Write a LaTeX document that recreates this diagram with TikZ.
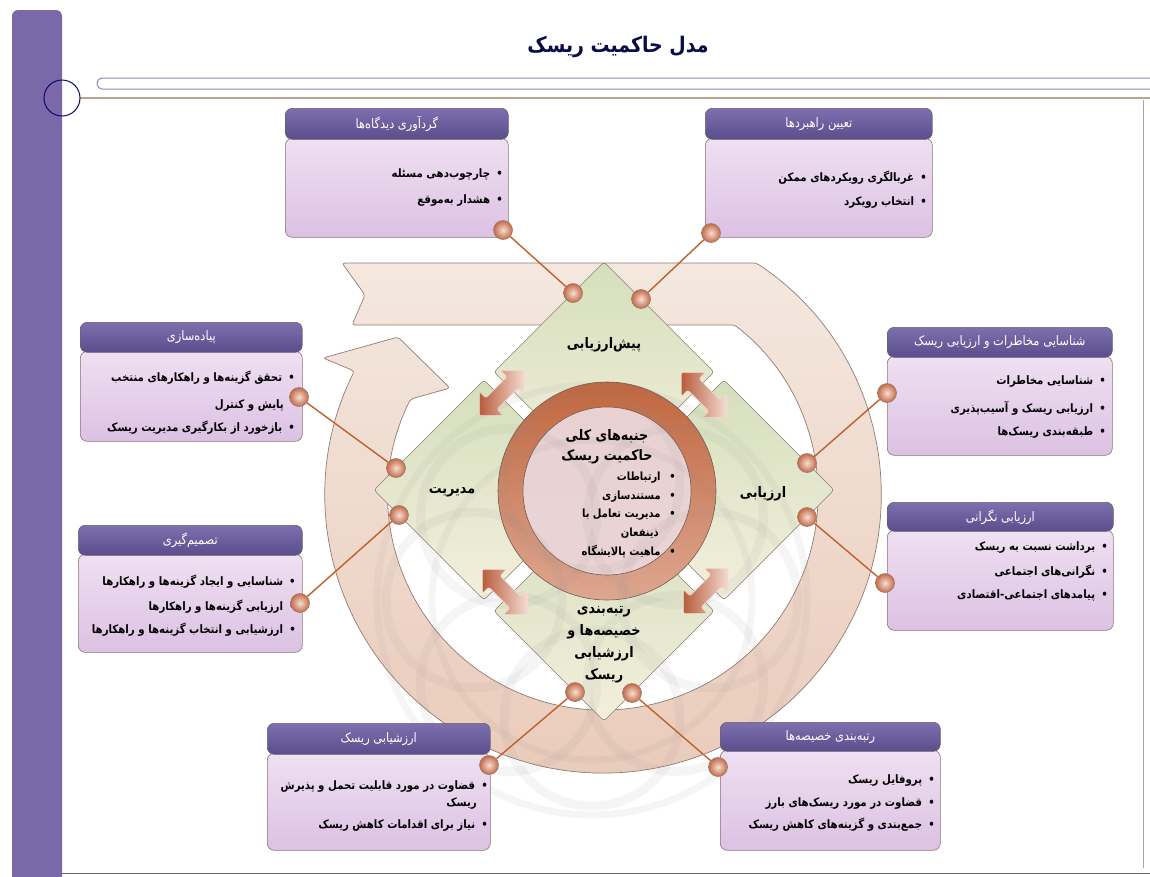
\documentclass[tikz,border=0pt]{standalone}
\usepackage{fontspec}
\usepackage{graphicx}
\usetikzlibrary{calc}
\newfontfamily\farsi[Script=Arabic]{DejaVu Sans}
\TeXXeTstate=1
\newcommand{\rtl}[1]{\scalebox{0.88}[1]{\farsi\beginR #1\endR}}
\definecolor{barpurple}{HTML}{7A68A8}
\definecolor{titlenavy}{HTML}{0B0B4A}
\definecolor{hdrtop}{HTML}{7E70AE}
\definecolor{hdrbot}{HTML}{594D8C}
\definecolor{hdrborder}{HTML}{6B5E70}
\definecolor{bodytop}{HTML}{EFE0F2}
\definecolor{bodybot}{HTML}{DCC1E3}
\definecolor{bodyborder}{HTML}{8A7474}
\definecolor{connc}{HTML}{C0602A}
\definecolor{dotin}{HTML}{F6DED3}
\definecolor{dotout}{HTML}{C46A48}
\definecolor{dotborder}{HTML}{9A7A6C}
\definecolor{ringtop}{HTML}{F3E6DD}
\definecolor{ringbot}{HTML}{E8C5B2}
\definecolor{ringborder}{HTML}{8A7268}
\definecolor{diamtop}{HTML}{D5DFBC}
\definecolor{diambot}{HTML}{F3EFDD}
\definecolor{diamborder}{HTML}{8C8070}
\definecolor{cringtop}{HTML}{C0663E}
\definecolor{cringbot}{HTML}{DDA791}
\definecolor{cdisc}{HTML}{EBD7DA}
\definecolor{arrdark}{HTML}{B85C3C}
\definecolor{arrlight}{HTML}{F4DCD2}
\definecolor{wmark}{HTML}{8C8C8C}
\newcommand{\dblarr}[3]{%
\begin{scope}[shift={(#1,#2)}, rotate=#3]
\shade[draw=white!80!arrdark, line width=0.5, left color=arrdark, right color=arrlight, rounded corners=2]
 (-32,0) -- (-15,-17) -- (-15,-8) -- (15,-8) -- (15,-17) -- (32,0) -- (15,17) -- (15,8) -- (-15,8) -- (-15,17) -- cycle;
\end{scope}}
\begin{document}
\begin{tikzpicture}[x=1pt,y=-1pt,
  hdr/.style={draw=hdrborder, line width=0.6, rounded corners=7, top color=hdrtop, bottom color=hdrbot, text=white, font=\farsi\fontsize{13}{15}\selectfont, inner sep=0, anchor=north west},
  bodyb/.style={draw=bodyborder, line width=0.6, rounded corners=7, top color=bodytop, bottom color=bodybot, inner sep=0, anchor=north west},
  bul/.style={anchor=east, inner sep=0, font=\farsi\bfseries\fontsize{11.6}{13}\selectfont},
  dot/.style={circle, minimum size=19, inner sep=0, draw=dotborder, line width=0.6, inner color=dotin, outer color=dotout},
  conn/.style={draw=connc, line width=1.4},
  diam/.style={draw=diamborder, line width=0.6, rounded corners=3, top color=diamtop, bottom color=diambot},
  dlabel/.style={font=\farsi\bfseries\fontsize{14.5}{22}\selectfont, align=center, inner sep=0},
  clabel/.style={anchor=east, inner sep=0, font=\farsi\bfseries\fontsize{11.3}{13}\selectfont},
  wm/.style={draw=wmark, line width=9, opacity=0.08}]
\useasboundingbox (0,0) rectangle (1150,876);
\fill[white] (0,0) rectangle (1150,876);
% frame
\fill[barpurple, rounded corners=6] (12,900) -- (12,10) -- (62,10) -- (62,900) -- cycle;
\draw[draw=barpurple!80, line width=1, fill=white, rounded corners=5] (97,78) rectangle (1170,89);
\draw[draw=gray!60!brown!70, line width=2] (80,98) -- (1150,98);
\draw[draw=titlenavy!80!blue, line width=1] (62,98) circle (18);
\draw[draw=gray!70, line width=0.6] (1143,100) -- (1143,868);
\draw[draw=gray!80!black, line width=1] (62,873) -- (1150,873);
\node[font=\farsi\bfseries\fontsize{21.5}{26}\selectfont, text=titlenavy] (title) at (618,47) {\rtl{مدل حاکمیت ریسک}};
% big circular arrow
\shade[draw=ringborder, line width=0.7, top color=ringtop, bottom color=ringbot, rounded corners=3, opacity=0.92]
 (342,263) -- (756.2,263) arc[start angle=-56.6, end angle=206.5, radius=278]
 -- (323,358) -- (398,337) -- (450,388) -- (410.6,399.1)
 arc[start angle=206.5, end angle=-52.3, radius=215]
 -- (352,325) -- (365,295) -- cycle;
% diamonds
\shade[diam] (604,262) -- (714,372) -- (604,482) -- (494,372) -- cycle;
\shade[diam] (484,380) -- (594,490) -- (484,600) -- (374,490) -- cycle;
\shade[diam] (724,380) -- (834,490) -- (724,600) -- (614,490) -- cycle;
\shade[diam] (604,501) -- (714,611) -- (604,721) -- (494,611) -- cycle;
% central circle
\shade[draw=ringborder!80!black, line width=0.6, top color=cringtop, bottom color=cringbot] (607,491) circle (109);
\fill[cdisc, opacity=0.95] (607,491) circle (84);
\draw[draw=ringborder!80!black, line width=0.6] (607,491) circle (84);
% faint watermark
\foreach \a in {0,45,...,315} {
  \draw[wm] ($(592,600)+(\a:118)$) circle (88);
}
\draw[wm, line width=7] (592,600) circle (215);
\draw[wm, line width=7] (592,600) circle (160);
% double arrows
\dblarr{502}{393}{45}
\dblarr{704}{395}{-45}
\dblarr{505}{592}{-45}
\dblarr{706}{591}{45}
% diamond labels
\node[dlabel] (dtop) at (604,345) {\rtl{پیش‌ارزیابی}};
\node[dlabel] (dleft) at (452,492) {\rtl{مدیریت}};
\node[dlabel] (dright) at (763,494) {\rtl{ارزیابی}};
\node[dlabel] (dbot) at (604,645) {\rtl{رتبه‌بندی}\\\rtl{خصیصه‌ها و}\\\rtl{ارزشیابی}\\\rtl{ریسک}};
% center text
\node[font=\farsi\bfseries\fontsize{14.5}{20}\selectfont, align=center, inner sep=0] (ctitle) at (607,447) {\rtl{جنبه‌های کلی}\\\rtl{حاکمیت ریسک}};
\node[clabel] (c1) at (676,478) {\rtl{•\hspace{10pt}ارتباطات}};
\node[clabel] (c2) at (676,497) {\rtl{•\hspace{10pt}مستندسازی}};
\node[clabel] (c3) at (676,515) {\rtl{•\hspace{10pt}مدیریت تعامل با}};
\node[clabel] (c3b) at (659,533) {\rtl{ذینفعان}};
\node[clabel] (c4) at (676,552) {\rtl{•\hspace{10pt}ماهیت پالایشگاه}};
% boxes
\node[bodyb, minimum width=223, minimum height=99] (b1) at (285,138) {};
\node[hdr, minimum width=223, minimum height=31] (h1) at (285,108) {\rtl{گردآوری دیدگاه‌ها}};
\node[bul] (t1a) at (503,175) {\rtl{•\hspace{7pt}چارچوب‌دهی مسئله}};
\node[bul] (t1b) at (503,201) {\rtl{•\hspace{7pt}هشدار به‌موقع}};

\node[bodyb, minimum width=227, minimum height=99] (b2) at (705,138) {};
\node[hdr, minimum width=227, minimum height=31] (h2) at (705,108) {\rtl{تعیین راهبردها}};
\node[bul] (t2a) at (927,178) {\rtl{•\hspace{7pt}غربالگری رویکردهای ممکن}};
\node[bul] (t2b) at (927,203) {\rtl{•\hspace{7pt}انتخاب رویکرد}};

\node[bodyb, minimum width=222, minimum height=90] (b3) at (80,351) {};
\node[hdr, minimum width=222, minimum height=30] (h3) at (80,322) {\rtl{پیاده‌سازی}};
\node[bul] (t3a) at (295,378) {\rtl{•\hspace{7pt}تحقق گزینه‌ها و راهکارهای منتخب}};
\node[bul] (t3b) at (284,405) {\rtl{پایش و کنترل}};
\node[bul] (t3c) at (295,428) {\rtl{•\hspace{7pt}بازخورد از بکارگیری مدیریت ریسک}};

\node[bodyb, minimum width=225, minimum height=99] (b4) at (887,356) {};
\node[hdr, minimum width=225, minimum height=30] (h4) at (887,327) {\rtl{شناسایی مخاطرات و ارزیابی ریسک}};
\node[bul] (t4a) at (1106,382) {\rtl{•\hspace{7pt}شناسایی مخاطرات}};
\node[bul] (t4b) at (1106,408) {\rtl{•\hspace{7pt}ارزیابی ریسک و آسیب‌پذیری}};
\node[bul] (t4c) at (1106,432) {\rtl{•\hspace{7pt}طبقه‌بندی ریسک‌ها}};

\node[bodyb, minimum width=224, minimum height=98] (b5) at (78,554) {};
\node[hdr, minimum width=224, minimum height=30] (h5) at (78,525) {\rtl{تصمیم‌گیری}};
\node[bul] (t5a) at (296,582) {\rtl{•\hspace{7pt}شناسایی و ایجاد گزینه‌ها و راهکارها}};
\node[bul] (t5b) at (296,607) {\rtl{•\hspace{7pt}ارزیابی گزینه‌ها و راهکارها}};
\node[bul] (t5c) at (296,630) {\rtl{•\hspace{7pt}ارزشیابی و انتخاب گزینه‌ها و راهکارها}};

\node[bodyb, minimum width=226, minimum height=100] (b6) at (887,530) {};
\node[hdr, minimum width=226, minimum height=29] (h6) at (887,502) {\rtl{ارزیابی نگرانی}};
\node[bul] (t6a) at (1108,547) {\rtl{•\hspace{7pt}برداشت نسبت به ریسک}};
\node[bul] (t6b) at (1108,572) {\rtl{•\hspace{7pt}نگرانی‌های اجتماعی}};
\node[bul] (t6c) at (1108,595) {\rtl{•\hspace{7pt}پیامدهای اجتماعی-اقتصادی}};

\node[bodyb, minimum width=223, minimum height=97] (b7) at (267,753) {};
\node[hdr, minimum width=223, minimum height=31] (h7) at (267,723) {\rtl{ارزشیابی ریسک}};
\node[bul] (t7a) at (488,786) {\rtl{•\hspace{7pt}قضاوت در مورد قابلیت تحمل و پذیرش}};
\node[bul] (t7b) at (477,803) {\rtl{ریسک}};
\node[bul] (t7c) at (488,825) {\rtl{•\hspace{7pt}نیاز برای اقدامات کاهش ریسک}};

\node[bodyb, minimum width=220, minimum height=100] (b8) at (720,750) {};
\node[hdr, minimum width=220, minimum height=29] (h8) at (720,722) {\rtl{رتبه‌بندی خصیصه‌ها}};
\node[bul] (t8a) at (935,780) {\rtl{•\hspace{7pt}پروفایل ریسک}};
\node[bul] (t8b) at (935,803) {\rtl{•\hspace{7pt}قضاوت در مورد ریسک‌های بارز}};
\node[bul] (t8c) at (935,825) {\rtl{•\hspace{7pt}جمع‌بندی و گزینه‌های کاهش ریسک}};
% connector circles
\node[dot] (p1) at (503,230) {};
\node[dot] (p2) at (711,233) {};
\node[dot] (p3) at (299,397) {};
\node[dot] (p4) at (887,393) {};
\node[dot] (p5) at (300,603) {};
\node[dot] (p6) at (885,583) {};
\node[dot] (p7) at (489,765) {};
\node[dot] (p8) at (718,767) {};
\node[dot] (q1) at (573,293) {};
\node[dot] (q2) at (641,299) {};
\node[dot] (q3) at (396,468) {};
\node[dot] (q4) at (807,463) {};
\node[dot] (q5) at (399,515) {};
\node[dot] (q6) at (807,517) {};
\node[dot] (q7) at (575,692) {};
\node[dot] (q8) at (632,693) {};
\draw[conn] (p1) -- (q1);
\draw[conn] (p2) -- (q2);
\draw[conn] (p3) -- (q3);
\draw[conn] (p4) -- (q4);
\draw[conn] (p5) -- (q5);
\draw[conn] (p6) -- (q6);
\draw[conn] (p7) -- (q7);
\draw[conn] (p8) -- (q8);
\end{tikzpicture}
\end{document}
